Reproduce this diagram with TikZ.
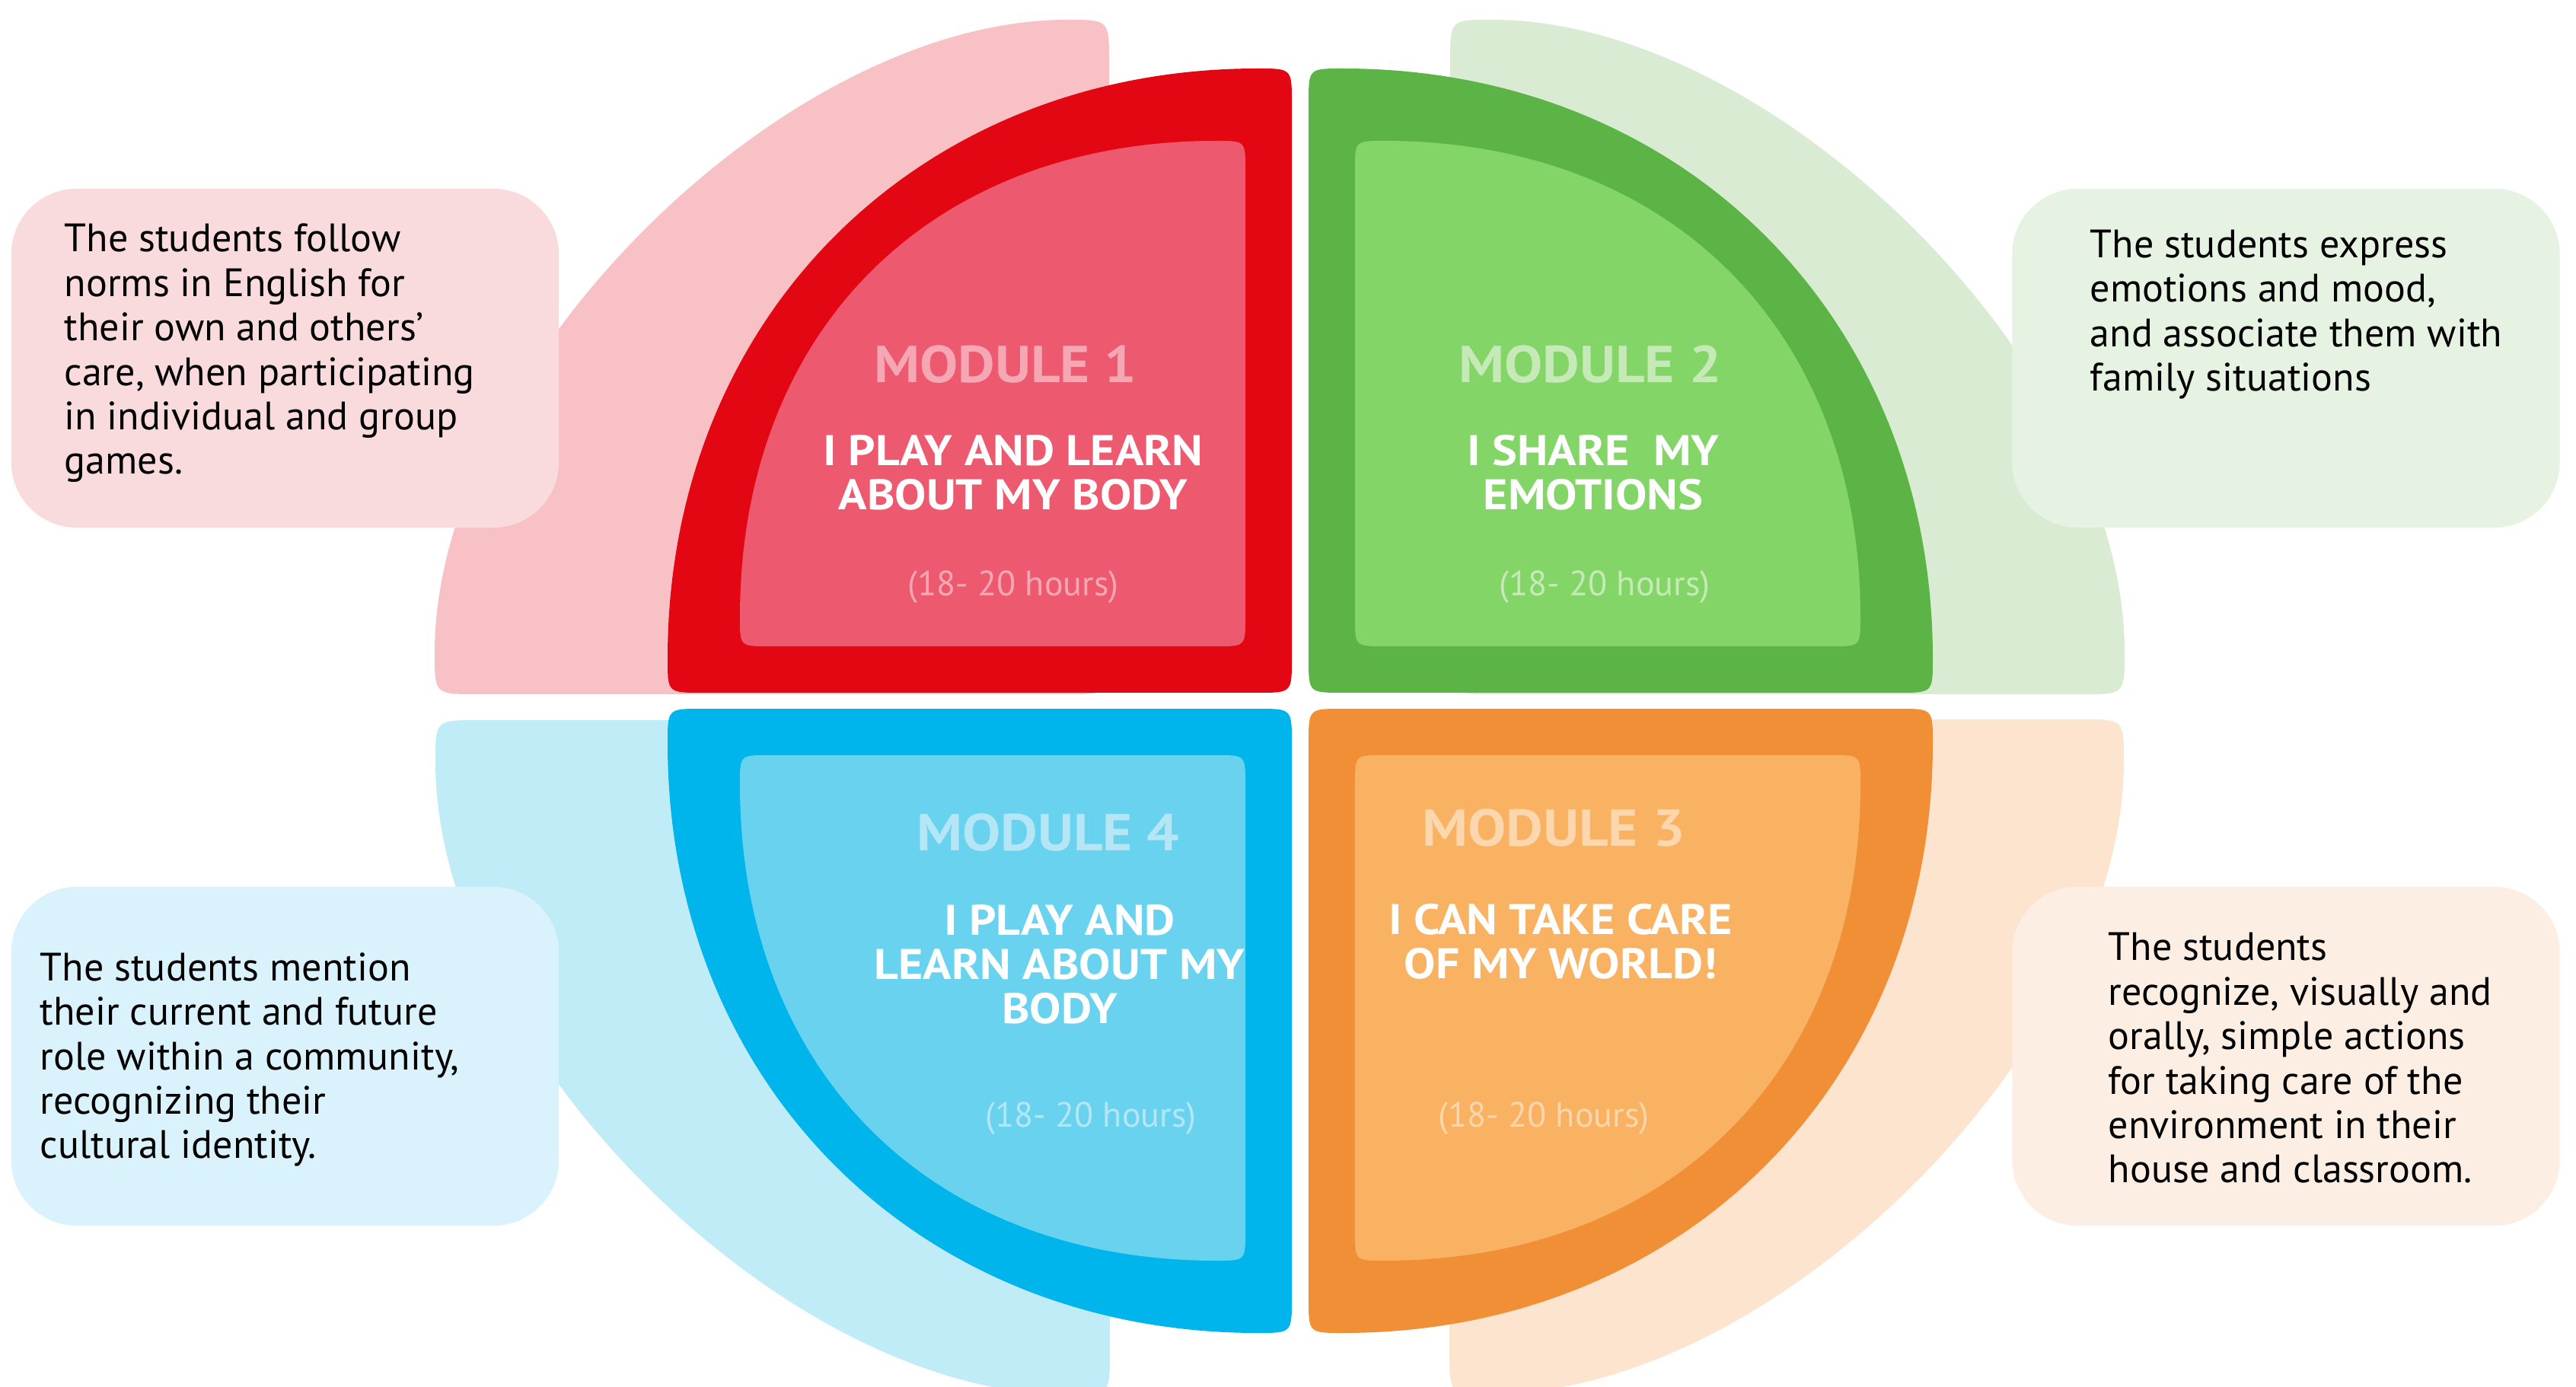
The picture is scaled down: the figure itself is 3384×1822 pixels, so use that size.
\documentclass[tikz,border=0pt]{standalone}
\usepackage{fontspec}
\setmainfont{PT Sans}
\newfontfamily\headfont{PT Sans}[FakeStretch=1.1]

\definecolor{pinkpale}{HTML}{F7C1C5}
\definecolor{greenpale}{HTML}{D9ECD3}
\definecolor{bluepale}{HTML}{C0ECF8}
\definecolor{peachpale}{HTML}{FDE4CF}
\definecolor{pinkbox}{HTML}{FADBDD}
\definecolor{greenbox}{HTML}{E6F2E2}
\definecolor{bluebox}{HTML}{D9F2FB}
\definecolor{peachbox}{HTML}{FDEEE3}
\definecolor{reddark}{HTML}{E30613}
\definecolor{greendark}{HTML}{5DB446}
\definecolor{bluedark}{HTML}{00B5EC}
\definecolor{orangedark}{HTML}{F18F36}
\definecolor{redlight}{HTML}{ED5A70}
\definecolor{greenlight}{HTML}{84D568}
\definecolor{bluelight}{HTML}{69D3EF}
\definecolor{orangelight}{HTML}{F8B262}
\definecolor{redname}{HTML}{F5A7B4}
\definecolor{greenname}{HTML}{C5EAB7}
\definecolor{bluename}{HTML}{B5E6F5}
\definecolor{orangename}{HTML}{FCD6AD}

% quarter shape with rounded corners: options, size, corner radius, tangent a, b
\newcommand{\petal}[5]{%
  \pgfmathsetmacro\pn{sqrt((#4)^2+(#5)^2)}%
  \pgfmathsetmacro\pux{#3*(#4)/\pn}%
  \pgfmathsetmacro\puy{#3*(#5)/\pn}%
  \fill[#1] (-#3,0) -- (-#2+#3,0) .. controls (-#2,0) .. (-#2+\pux,\puy)
    .. controls ({-#2+#4*#2},{#5*#2}) and ({-#5*#2},{#2-#4*#2}) .. (-\puy,#2-\pux)
    .. controls (0,#2) .. (0,#2-#3) -- (0,#3) .. controls (0,0) .. (-#3,0) -- cycle;}

\begin{document}
\begin{tikzpicture}[x=0.01cm,y=0.01cm]
\tikzstyle{goalbox}=[draw=none,rounded corners=0.86cm,minimum width=7.19cm,minimum height=4.45cm,inner sep=0pt]
\tikzstyle{goal}=[anchor=west,align=left,inner sep=0pt,font=\fontsize{14.8}{16.6}\selectfont]
\tikzstyle{modname}=[inner sep=0pt,font=\headfont\bfseries\fontsize{19.4}{20}\selectfont]
\tikzstyle{modtitle}=[align=center,text=white,inner sep=0pt,font=\headfont\bfseries\fontsize{16}{16.6}\selectfont]
\tikzstyle{hours}=[inner sep=0pt,font=\fontsize{13.1}{14}\selectfont]

\useasboundingbox (0,0) rectangle (3384,-1822);

% pale quarters
\foreach \px/\py/\fx/\fy/\col in {1457/-912/1/1/pinkpale,1905/-912/-1/1/greenpale,1458/-946/1/-1/bluepale,1904/-945/-1/-1/peachpale}
  {\petal{\col,shift={(\px,\py)},xscale=\fx,yscale=\fy}{886}{55}{0}{0.483}}

% goal boxes
\node[goalbox,fill=pinkbox] (box1) at (374.5,-470.5) {};
\node[goalbox,fill=greenbox] (box2) at (3003,-470.5) {};
\node[goalbox,fill=bluebox] (box4) at (374.5,-1387.5) {};
\node[goalbox,fill=peachbox] (box3) at (3003,-1387.5) {};

% module quarters
\foreach \px/\py/\fx/\fy/\col/\lcol in {1697/-910/1/1/reddark/redlight,1719/-910/-1/1/greendark/greenlight,1697/-931/1/-1/bluedark/bluelight,1719/-931/-1/-1/orangedark/orangelight}
  {\petal{\col,shift={(\px,\py)},xscale=\fx,yscale=\fy}{820}{45}{0}{0.6}
   \petal{\lcol,shift={(\px,\py)},xscale=\fx,yscale=\fy,shift={(-61,61)}}{664}{38}{0}{0.624}}

% goals
\node[goal] (goal1) at (84,-464) {The students follow\\norms in English for\\their own and others’\\care, when participating\\in individual and group\\games.};
\node[goal] (goal2) at (2745,-413) {The students express\\emotions and mood,\\and associate them with\\family situations};
\node[goal] (goal4) at (52,-1392) {The students mention\\their current and future\\role within a community,\\recognizing their\\cultural identity.};
\node[goal] (goal3) at (2769,-1390) {The students\\recognize, visually and\\orally, simple actions\\for taking care of the\\environment in their\\house and classroom.};

% module texts
\node[modname,text=redname] (mod1) at (1321,-479) {MODULE 1};
\node[modtitle] (title1) at (1331,-621) {I PLAY AND LEARN\\ABOUT MY BODY};
\node[hours,text=redname] (hours1) at (1331,-771) {(18- 20 hours)};

\node[modname,text=greenname] (mod2) at (2089,-479) {MODULE 2};
\node[modtitle] (title2) at (2093,-621) {I SHARE\ \ MY\\EMOTIONS};
\node[hours,text=greenname] (hours2) at (2108,-771) {(18- 20 hours)};

\node[modname,text=bluename] (mod4) at (1377,-1094) {MODULE 4};
\node[modtitle] (title4) at (1392,-1267) {I PLAY AND\\LEARN ABOUT MY\\BODY};
\node[hours,text=bluename] (hours4) at (1433,-1469) {(18- 20 hours)};

\node[modname,text=orangename] (mod3) at (2041,-1088) {MODULE 3};
\node[modtitle] (title3) at (2050,-1237) {I CAN TAKE CARE\\OF MY WORLD!};
\node[hours,text=orangename] (hours3) at (2028,-1469) {(18- 20 hours)};
\end{tikzpicture}
\end{document}
